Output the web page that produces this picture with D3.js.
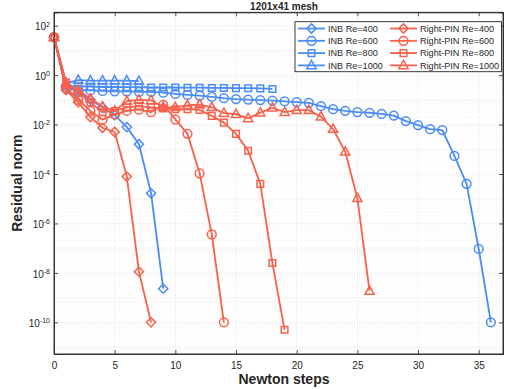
<!DOCTYPE html>
<html>
<head>
<meta charset="utf-8">
<script src="https://cdn.jsdelivr.net/npm/d3@7"></script>
<style>
body { margin: 0; background: #fff; }
text { font-family: "Liberation Sans", Arial, Helvetica, sans-serif; }
</style>
</head>
<body>
<svg id="chart" width="506" height="389"></svg>
<script>
// residual norm per Newton step
var inb400 = [34, 0.4, 0.2, 0.1, 0.05, 0.024, 0.0079, 0.0016, 1.66e-5, 2.3e-9];
var inb600 = [34, 0.28, 0.25, 0.24, 0.23, 0.22, 0.22, 0.21, 0.21, 0.195, 0.174, 0.158, 0.148,
	0.132, 0.117, 0.107, 0.102, 0.098, 0.093, 0.087, 0.081, 0.076, 0.056, 0.042, 0.036, 0.032,
	0.030, 0.027, 0.023, 0.0138, 0.0095, 0.0065, 0.006, 5.4e-4, 4.0e-5, 9.3e-8, 1e-10];
var inb800 = [34, 0.355, 0.355, 0.34, 0.33, 0.33, 0.324, 0.324, 0.316, 0.316, 0.316, 0.309,
	0.309, 0.302, 0.302, 0.298, 0.295, 0.29, 0.275];
var inb1000 = [34, 0.47, 0.63, 0.6, 0.6, 0.6, 0.6, 0.575];
var pin400 = [34, 0.25, 0.079, 0.02, 0.0074, 0.005, 7.9e-5, 1.12e-8, 1e-10];
var pin600 = [34, 0.316, 0.1, 0.0355, 0.0158, 0.0251, 0.0355, 0.0398, 0.0316, 0.0631, 0.0162,
	0.0042, 1.07e-4, 3.6e-7, 1e-10];
var pin800 = [34, 0.5, 0.2, 0.079, 0.0316, 0.0355, 0.05, 0.056, 0.05, 0.0447, 0.0417, 0.0417,
	0.0389, 0.0224, 0.012, 0.0042, 8.7e-4, 4.0e-5, 2.5e-8, 5e-11];
var pin1000 = [34, 0.447, 0.251, 0.112, 0.0537, 0.0355, 0.0891, 0.1, 0.0955, 0.05, 0.05, 0.0603,
	0.0646, 0.05, 0.0288, 0.0263, 0.0178, 0.0302, 0.0479, 0.0316, 0.038, 0.038, 0.0209, 0.0066,
	7.9e-4, 1.05e-5, 1.86e-9];

var seriesNames = ["INB Re=400", "INB Re=600", "INB Re=800", "INB Re=1000",
	"Right-PIN Re=400", "Right-PIN Re=600", "Right-PIN Re=800", "Right-PIN Re=1000"];
var seriesValues = [inb400, inb600, inb800, inb1000, pin400, pin600, pin800, pin1000];
var seriesMarkers = ["diamond", "circle", "square", "triangle", "diamond", "circle", "square", "triangle"];

var xTicks = [0, 5, 10, 15, 20, 25, 30, 35];
var yTickExps = [2, 0, -2, -4, -6, -8, -10];
var titleText = "1201x41 mesh";
var xLabelText = "Newton steps";
var yLabelText = "Residual norm";

var blue = "#4a8cf7", red = "#f9604b", ink = "#262626";

var svg = d3.select("#chart");
var pLeft = 54, pRight = 503, pTop = 12.3, pBottom = 354;

var x = d3.scaleLinear().domain([0, 37]).range([pLeft, pRight]);
var y = d3.scaleLog().domain([5.25e-12, 347]).range([pBottom, pTop]);

// grid: minor lines inside each decade, then decades, then x major
var grid = svg.append("g").attr("class", "grid");
var minorVals = [];
for (var e = -12; e <= 2; e++) {
	for (var m = 2; m <= 9; m++) {
		var v = m * Math.pow(10, e);
		if (v > y.domain()[0] && v < y.domain()[1]) minorVals.push(v);
	}
}
grid.selectAll(".minor").data(minorVals).enter().append("line")
	.attr("x1", pLeft).attr("x2", pRight)
	.attr("y1", function(d) { return y(d); }).attr("y2", function(d) { return y(d); })
	.attr("stroke", "#eeeeee").attr("stroke-width", 0.6).attr("stroke-dasharray", "1,1.5");

var decades = d3.range(-11, 3).map(function(e) { return Math.pow(10, e); });
grid.selectAll(".dec").data(decades).enter().append("line")
	.attr("x1", pLeft).attr("x2", pRight)
	.attr("y1", function(d) { return y(d); }).attr("y2", function(d) { return y(d); })
	.attr("stroke", "#d8d8d8").attr("stroke-width", 0.7).attr("stroke-dasharray", "1,1.5");

grid.selectAll(".vx").data(xTicks.slice(1)).enter().append("line")
	.attr("y1", pTop).attr("y2", pBottom)
	.attr("x1", function(d) { return x(d); }).attr("x2", function(d) { return x(d); })
	.attr("stroke", "#d8d8d8").attr("stroke-width", 0.7).attr("stroke-dasharray", "1,1.5");

// axes, ticks pointing inwards like matlab
var yTickVals = yTickExps.map(function(e) { return Math.pow(10, e); });

var xAxis = svg.append("g").attr("transform", "translate(0," + pBottom + ")")
	.call(d3.axisBottom(x).tickValues(xTicks).tickSize(-4).tickPadding(8).tickFormat(d3.format("d")));
svg.append("g").attr("transform", "translate(0," + pTop + ")")
	.call(d3.axisTop(x).tickValues(xTicks).tickSize(-4).tickFormat(""));
var yAxis = svg.append("g").attr("transform", "translate(" + pLeft + ",0)")
	.call(d3.axisLeft(y).tickValues(yTickVals).tickSize(-4).tickFormat(""));
svg.append("g").attr("transform", "translate(" + pRight + ",0)")
	.call(d3.axisRight(y).tickValues(yTickVals).tickSize(-4).tickFormat(""));

svg.selectAll(".domain").attr("stroke", ink).attr("stroke-width", 0.9);
svg.selectAll(".tick line").attr("stroke", ink).attr("stroke-width", 0.8);
xAxis.selectAll(".tick text").attr("font-size", 10).attr("fill", ink)
	.attr("font-family", "Liberation Sans, Arial, sans-serif");

// 10^n labels, built from base and superscript exponent
yAxis.selectAll(".tick").each(function(d) {
	var t = d3.select(this).select("text")
		.attr("dy", "0.42em").attr("font-size", 10).attr("fill", ink)
		.attr("font-family", "Liberation Sans, Arial, sans-serif");
	t.text(null);
	t.append("tspan").text("10");
	t.append("tspan").attr("dy", "-0.55em").attr("font-size", 7)
		.text(Math.round(Math.log10(d)));
	var w = t.node().getComputedTextLength();
	t.attr("text-anchor", "start").attr("x", -4 - w);
});

// marker shapes
function markerPath(type) {
	if (type === "diamond") return "M0,-4.6L4.6,0L0,4.6L-4.6,0Z";
	if (type === "square") return "M-3.3,-3.3H3.3V3.3H-3.3Z";
	if (type === "triangle") return "M0,-5L4.6,3.3H-4.6Z";
	return d3.symbol().type(d3.symbolCircle).size(60)();
}

var line = d3.line()
	.x(function(d, i) { return x(i); })
	.y(function(d) { return y(d); });

var plot = svg.append("g").attr("class", "series");
seriesValues.forEach(function(vals, k) {
	var col = k < 4 ? blue : red;
	var g = plot.append("g");
	g.append("path").datum(vals)
		.attr("d", line)
		.attr("fill", "none").attr("stroke", col).attr("stroke-width", 1.8)
		.attr("stroke-linejoin", "round");
	g.selectAll("path.mk").data(vals).enter().append("path")
		.attr("class", "mk")
		.attr("transform", function(d, i) { return "translate(" + x(i) + "," + y(d) + ")"; })
		.attr("d", markerPath(seriesMarkers[k]))
		.attr("fill", "none").attr("stroke", col).attr("stroke-width", 1.5);
});

// box outline
svg.append("rect").attr("x", pLeft).attr("y", pTop)
	.attr("width", pRight - pLeft).attr("height", pBottom - pTop)
	.attr("fill", "none").attr("stroke", ink).attr("stroke-width", 0.9);

// legend
var leg = svg.append("g").attr("class", "legend");
leg.append("rect").attr("x", 295).attr("y", 21.7).attr("width", 206.5).attr("height", 50)
	.attr("fill", "#fff").attr("stroke", ink).attr("stroke-width", 0.9);
seriesNames.forEach(function(name, k) {
	var col = k < 4 ? blue : red;
	var x0 = k < 4 ? 298 : 390;
	var yy = 28.5 + (k % 4) * 12.3;
	var item = leg.append("g");
	item.append("line").attr("x1", x0).attr("x2", x0 + 27).attr("y1", yy).attr("y2", yy)
		.attr("stroke", col).attr("stroke-width", 1.8);
	item.append("path").attr("transform", "translate(" + (x0 + 13.5) + "," + yy + ")")
		.attr("d", markerPath(seriesMarkers[k]))
		.attr("fill", "none").attr("stroke", col).attr("stroke-width", 1.5);
	item.append("text").attr("x", x0 + 30).attr("y", yy).attr("dy", "0.36em")
		.attr("font-size", 9.1).attr("fill", ink).text(name);
});

// title and labels
svg.append("text").attr("x", 284).attr("y", 9.5).attr("text-anchor", "middle")
	.attr("font-size", 10).attr("font-weight", "bold").attr("fill", ink).text(titleText);
svg.append("text").attr("x", 284).attr("y", 384).attr("text-anchor", "middle")
	.attr("font-size", 14).attr("font-weight", "bold").attr("fill", ink).text(xLabelText);
svg.append("text").attr("transform", "translate(22," + ((pTop + pBottom) / 2) + ") rotate(-90)")
	.attr("text-anchor", "middle")
	.attr("font-size", 14).attr("font-weight", "bold").attr("fill", ink).text(yLabelText);
</script>
</body>
</html>
